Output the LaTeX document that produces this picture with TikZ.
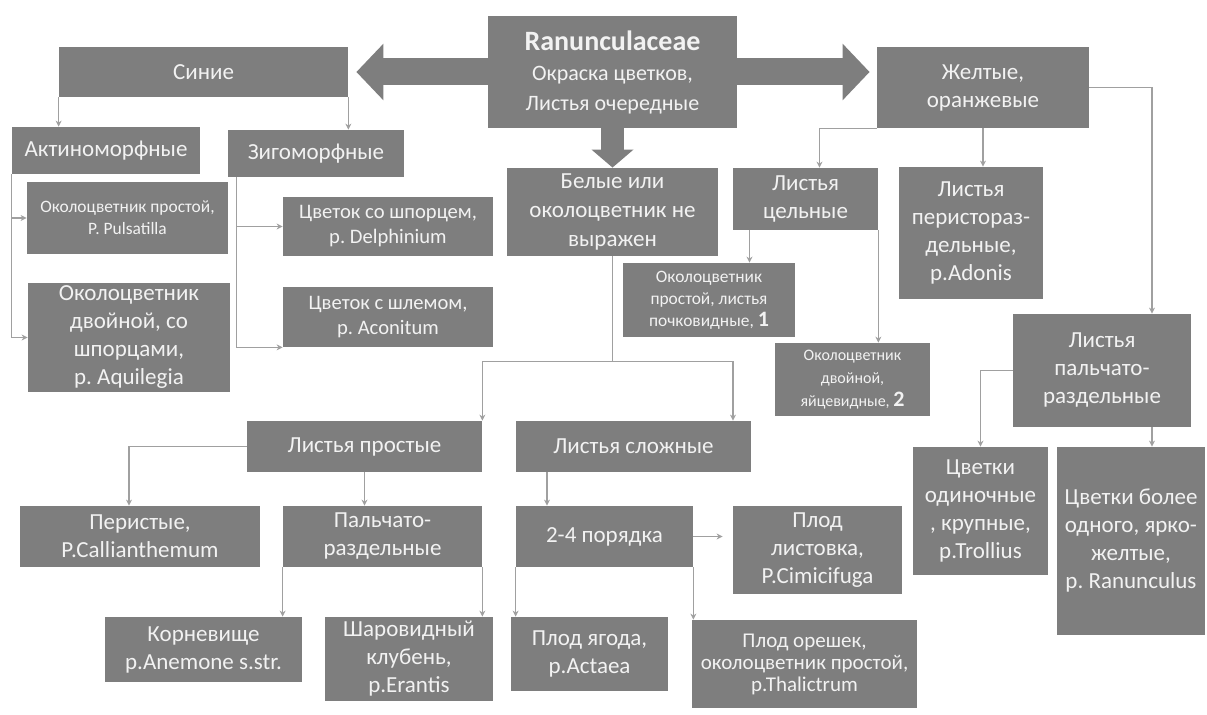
\documentclass[tikz,border=0pt]{standalone}
\usepackage{fontspec}
\setmainfont{Carlito}
\usepackage{xcolor}
\usetikzlibrary{arrows.meta}
\definecolor{boxgray}{RGB}{126,126,126}
\definecolor{linegray}{RGB}{160,160,160}
\definecolor{boxtext}{RGB}{242,242,242}
\frenchspacing

\begin{document}
\begin{tikzpicture}[x=0.5pt,y=-0.5pt,
    box/.style={rectangle,fill=boxgray,text=boxtext,align=center,inner sep=1pt},
    big/.style={box,font=\fontsize{11.5}{14}\selectfont},
    mid/.style={box,font=\fontsize{10.3}{12.5}\selectfont},
    small/.style={box,font=\fontsize{8.7}{11}\selectfont},
    link/.style={-{Stealth[length=3pt,width=3pt]},draw=linegray,line width=0.7pt},
    fatarrow/.style={draw=boxgray,line width=13.5pt,{Triangle[width=27.5pt,length=13.5pt]}-{Triangle[width=27.5pt,length=13.5pt]}},
    downarrow/.style={draw=boxgray,line width=11.5pt,-{Triangle[width=20.5pt,length=9pt]}}]
  \useasboundingbox (0,0) rectangle (1207,715);

  \node[big,minimum width=144.5pt,minimum height=25pt] (sinie) at (203.5,72) {Синие};
  \node[big,minimum width=106pt,minimum height=40.5pt] (zhelt) at (983,87.5) {Желтые,\\оранжевые};
  \coordinate (ltip) at ([xshift=4pt]sinie.east);
  \coordinate (rtip) at ([xshift=-3.5pt]zhelt.west);
  \draw[fatarrow] (ltip) -- (ltip -| rtip);
  \node[box,minimum width=124.5pt,minimum height=56pt,font=\fontsize{11}{15}\selectfont] (root) at (612.5,72)
    {{\fontsize{14}{16}\selectfont\bfseries Ranunculaceae}\\Окраска цветков,\\Листья очередные};
  \node[big,minimum width=105.5pt,minimum height=44pt,font=\fontsize{11.5}{14.5}\selectfont] (belye) at (612.5,212) {Белые или\\околоцветник не\\выражен};
  \draw[downarrow] (root.south) -- (belye.north);

  \node[big,minimum width=94pt,minimum height=23.5pt] (aktino) at (106,150.5) {Актиноморфные};
  \node[big,minimum width=88pt,minimum height=23.5pt] (zigo) at (316,153.5) {Зигоморфные};
  \node[small,minimum width=100.5pt,minimum height=36pt] (pulsat) at (127.5,218) {Околоцветник простой,\\Р. Pulsatilla};
  \node[big,minimum width=101pt,minimum height=54.5pt] (aquil) at (129,337.5) {Околоцветник\\двойной, со\\шпорцами,\\р. Aquilegia};
  \node[mid,minimum width=105pt,minimum height=29.5pt] (delph) at (388,226.5) {Цветок со шпорцем,\\р. Delphinium};
  \node[mid,minimum width=105pt,minimum height=30pt] (aconit) at (388,317) {Цветок с шлемом,\\р. Aconitum};

  \node[big,minimum width=72.5pt,minimum height=31pt] (celn) at (805.5,199) {Листья\\цельные};
  \node[big,minimum width=72pt,minimum height=66pt] (adonis) at (971,233) {Листья\\перистораз-\\дельные,\\р.Adonis};
  \node[small,minimum width=86pt,minimum height=37pt] (poch) at (709,300) {Околоцветник\\простой, листья\\почковидные, {\fontsize{11}{11}\selectfont\bfseries 1}};
  \node[small,minimum width=77.5pt,minimum height=36.5pt,font=\fontsize{8}{11.5}\selectfont] (yaic) at (852.5,379.5) {Околоцветник\\двойной,\\яйцевидные, {\fontsize{11}{11}\selectfont\bfseries 2}};
  \node[big,minimum width=89pt,minimum height=56.5pt] (palch) at (1102,370.5) {Листья\\пальчато-\\раздельные};
  \node[big,minimum width=67.5pt,minimum height=64pt] (troll) at (980.5,511) {Цветки\\одиночные\\, крупные,\\р.Trollius};
  \node[big,minimum width=74pt,minimum height=94pt] (ranunc) at (1131,541) {Цветки более\\одного, ярко-\\желтые,\\р. Ranunculus};

  \node[big,minimum width=117.5pt,minimum height=25.5pt] (prost) at (364.5,446.5) {Листья простые};
  \node[big,minimum width=117.5pt,minimum height=25.5pt] (slozh) at (633.5,446.5) {Листья сложные};
  \node[big,minimum width=120pt,minimum height=30.5pt] (calli) at (140,536.5) {Перистые,\\Р.Callianthemum};
  \node[big,minimum width=99.5pt,minimum height=30.5pt] (palchb) at (382.5,536.5) {Пальчато-\\раздельные};
  \node[big,minimum width=98.5pt,minimum height=32.5pt] (anem) at (203.5,649.5) {Корневище\\р.Anemone s.str.};
  \node[big,minimum width=84pt,minimum height=42pt] (erant) at (409,659) {Шаровидный\\клубень,\\р.Erantis};
  \node[big,minimum width=88.5pt,minimum height=30.5pt] (por) at (604.5,536.5) {2-4 порядка};
  \node[big,minimum width=84.5pt,minimum height=44pt] (cimic) at (817.5,550) {Плод\\листовка,\\Р.Cimicifuga};
  \node[big,minimum width=78.5pt,minimum height=37pt] (actaea) at (589.5,654) {Плод ягода,\\р.Actaea};
  \node[mid,minimum width=112.5pt,minimum height=44pt,font=\fontsize{10.5}{11}\selectfont] (thalic) at (804.5,664) {Плод орешек,\\околоцветник простой,\\р.Thalictrum};

  \draw[link] (sinie.south west) -- (sinie.south west |- aktino.north);
  \draw[link] (sinie.south east) -- (sinie.south east |- zigo.north);
  \draw[link] (aktino.south west) |- (pulsat.west);
  \draw[link] (aktino.south west) |- (aquil.west);
  \coordinate (zg) at ([xshift=4.5pt]zigo.south west);
  \draw[link] (zg) |- (delph.west);
  \draw[link] (zg) |- (aconit.south west);

  \draw[link] (zhelt.south west) -| ([xshift=7pt]celn.north);
  \draw[link] (zhelt.south) -- (zhelt.south |- adonis.north);
  \draw[link] (zhelt.east) -| ([xshift=25pt]palch.north);
  \coordinate (cl) at ([xshift=-28pt]celn.south);
  \draw[link] (cl) -- (cl |- poch.north);
  \draw[link] (celn.south east) -- (celn.south east |- yaic.north);
  \draw[link] (palch.west) -| (troll.north);
  \coordinate (pr) at ([xshift=25pt]palch.south);
  \draw[link] (pr) -- (pr |- ranunc.north);

  \coordinate (bsplit) at ([yshift=-52.5pt]belye.south);
  \draw[draw=linegray,line width=0.7pt] (belye.south) -- (bsplit);
  \draw[link] (bsplit) -| (prost.north east);
  \draw[link] (bsplit) -| ([xshift=49.75pt]slozh.north);
  \draw[link] (prost.west) -| ([xshift=-5.5pt]calli.north);
  \draw[link] (prost.south) -- (prost.south |- palchb.north);
  \draw[link] (palchb.south west) -- (palchb.south west |- anem.north);
  \draw[link] (palchb.south east) -- (palchb.south east |- erant.north);
  \coordinate (sl) at ([xshift=-43.25pt]slozh.south);
  \draw[link] (sl) -- (sl |- por.north);
  \draw[link,shorten >=5pt] (por.east) -- (por.east -| cimic.west);
  \draw[link] (por.south west) -- (por.south west |- actaea.north);
  \draw[link] (por.south east) -- (por.south east |- thalic.north);
\end{tikzpicture}
\end{document}
